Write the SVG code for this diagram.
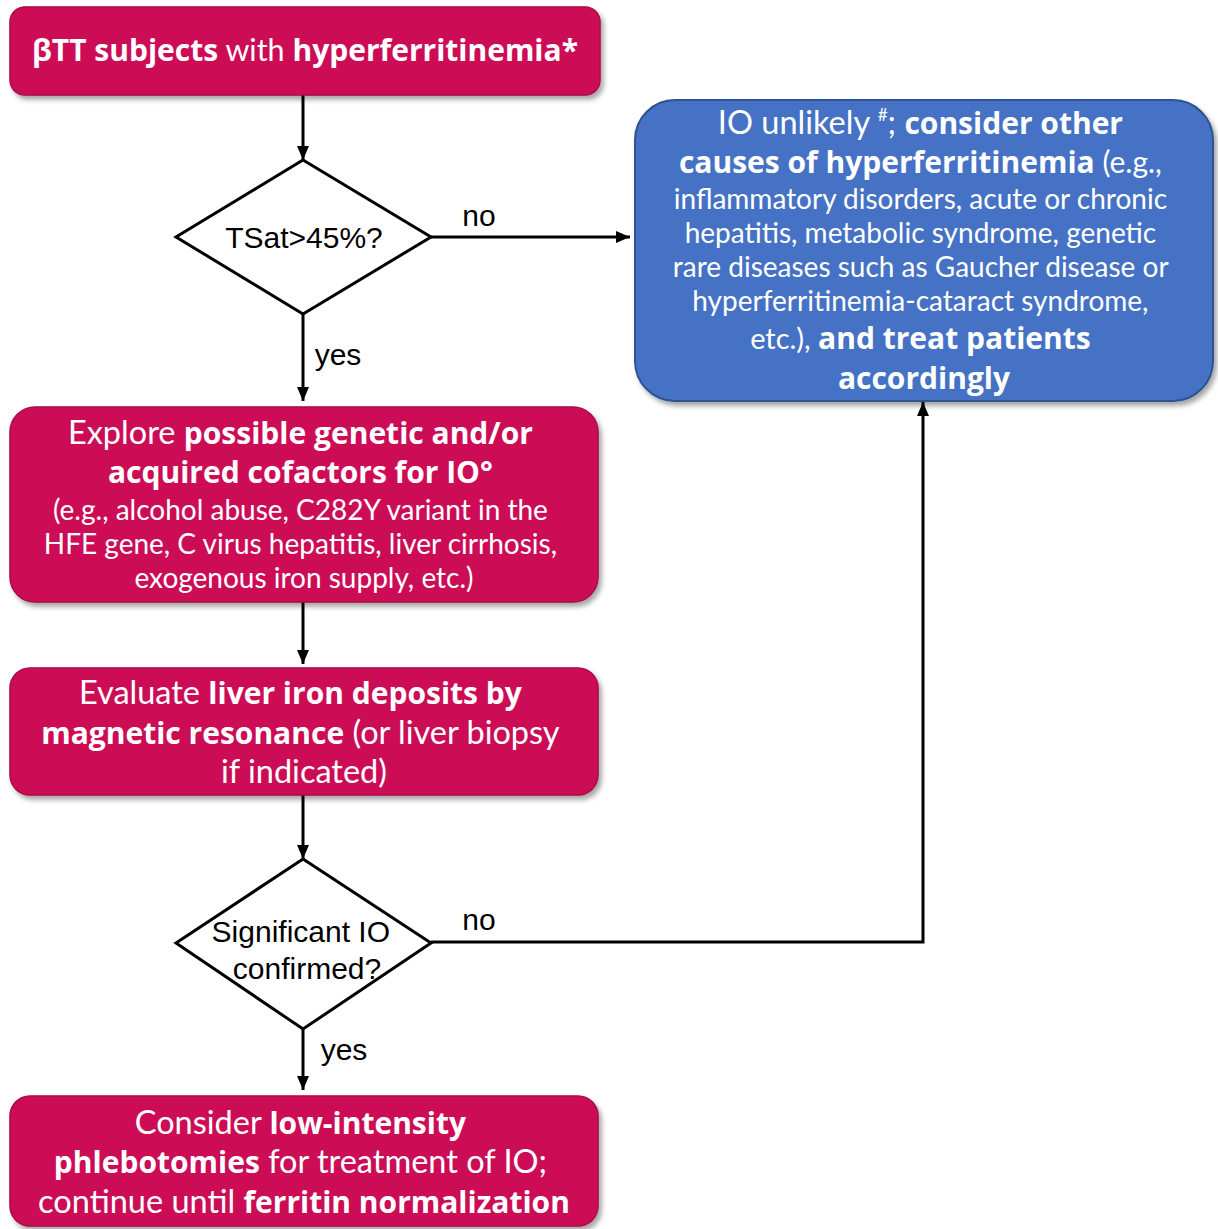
<svg xmlns="http://www.w3.org/2000/svg" width="1218" height="1229" viewBox="0 0 1218 1229">
<defs>
<filter id="sh" x="-5%" y="-10%" width="115%" height="130%">
<feDropShadow dx="3" dy="4" stdDeviation="2.5" flood-color="#000" flood-opacity="0.35"/>
</filter>
<marker id="ah" markerWidth="14" markerHeight="12" refX="14" refY="6" orient="auto" markerUnits="userSpaceOnUse">
<path d="M0,0 L14,6 L0,12 z" fill="#000"/>
</marker>
</defs>
<style>
.red{fill:#CC0A57;stroke:#A8084A;stroke-width:1.5;filter:url(#sh)}
.blue{fill:#4472C4;stroke:#2F528F;stroke-width:2;filter:url(#sh)}
.dia{fill:#fff;stroke:#000;stroke-width:3}
.t{font-family:Lato,"Open Sans",sans-serif;font-size:28px;fill:#fff;text-anchor:middle}
.r{font-size:32.5px}
.b{font-family:"Open Sans","Noto Sans",sans-serif;font-weight:bold;font-size:30px}
.dt{font-family:"Liberation Sans",Arial,sans-serif;font-size:30px;fill:#000;text-anchor:middle}
.con{fill:none;stroke:#000;stroke-width:3}
</style>
<g id="connectors">
<path class="con" d="M303,95 V160" marker-end="url(#ah)"/>
<path class="con" d="M431,237 H630" marker-end="url(#ah)"/>
<path class="con" d="M303,314 V401" marker-end="url(#ah)"/>
<path class="con" d="M303,602 V664" marker-end="url(#ah)"/>
<path class="con" d="M303,795 V859" marker-end="url(#ah)"/>
<path class="con" d="M431,942 H923 V402" marker-end="url(#ah)"/>
<path class="con" d="M303,1029 V1090" marker-end="url(#ah)"/>
<text class="dt" x="479" y="226">no</text>
<text class="dt" x="338" y="365">yes</text>
<text class="dt" x="479" y="930">no</text>
<text class="dt" x="344" y="1060">yes</text>
</g>
<g id="start">
<rect class="red" x="10" y="7" width="590" height="88" rx="15"/>
<text class="t" x="305" y="61"><tspan class="b">βTT subjects</tspan><tspan font-size="30.5px"> with </tspan><tspan class="b">hyperferritinemia*</tspan></text>
</g>
<g id="tsat">
<polygon class="dia" points="303,160 431,237 303,314 176,237"/>
<text class="dt" x="304" y="248">TSat&gt;45%?</text>
</g>
<g id="unlikely">
<rect class="blue" x="635" y="100" width="578" height="301" rx="40"/>
<text class="t">
<tspan x="924" y="134"><tspan class="r">IO unlikely </tspan><tspan font-size="17" dy="-13">#</tspan><tspan class="r" dy="13">; </tspan><tspan class="b">consider other</tspan></tspan>
<tspan x="924" y="173"><tspan class="b">causes of hyperferritinemia</tspan><tspan font-size="30px"> (e.g.,</tspan></tspan>
<tspan x="924" y="209">inflammatory disorders, acute or chronic</tspan>
<tspan x="924" y="243">hepatitis, metabolic syndrome, genetic</tspan>
<tspan x="924" y="277">rare diseases such as Gaucher disease or</tspan>
<tspan x="924" y="311">hyperferritinemia-cataract syndrome,</tspan>
<tspan x="924" y="349"><tspan font-size="29px">etc.), </tspan><tspan class="b">and treat patients</tspan></tspan>
<tspan x="924" y="389" class="b">accordingly</tspan>
</text>
</g>
<g id="explore">
<rect class="red" x="10" y="407" width="588" height="195" rx="25"/>
<text class="t">
<tspan x="304" y="444"><tspan class="r">Explore </tspan><tspan class="b">possible genetic and/or</tspan></tspan>
<tspan x="304" y="483" class="b">acquired cofactors for IO°</tspan>
<tspan x="304" y="520">(e.g., alcohol abuse, C282Y variant in the</tspan>
<tspan x="304" y="554">HFE gene, C virus hepatitis, liver cirrhosis,</tspan>
<tspan x="304" y="588">exogenous iron supply, etc.)</tspan>
</text>
</g>
<g id="evaluate">
<rect class="red" x="10" y="668" width="588" height="127" rx="20"/>
<text class="t">
<tspan x="304" y="704"><tspan class="r">Evaluate </tspan><tspan class="b">liver iron deposits by</tspan></tspan>
<tspan x="304" y="744"><tspan class="b">magnetic resonance</tspan><tspan class="r"> (or liver biopsy</tspan></tspan>
<tspan x="304" y="783" class="r">if indicated)</tspan>
</text>
</g>
<g id="significant">
<polygon class="dia" points="303,859 431,943 303,1029 176,943"/>
<text class="dt">
<tspan x="305" y="942">Significant IO</tspan>
<tspan x="307" y="979">confirmed?</tspan>
</text>
</g>
<g id="consider">
<rect class="red" x="10" y="1096" width="588" height="130" rx="20"/>
<text class="t">
<tspan x="304" y="1134"><tspan class="r">Consider </tspan><tspan class="b">low-intensity</tspan></tspan>
<tspan x="304" y="1173"><tspan class="b">phlebotomies</tspan><tspan class="r"> for treatment of IO;</tspan></tspan>
<tspan x="304" y="1213"><tspan class="r">continue until </tspan><tspan class="b">ferritin normalization</tspan></tspan>
</text>
</g>
</svg>
